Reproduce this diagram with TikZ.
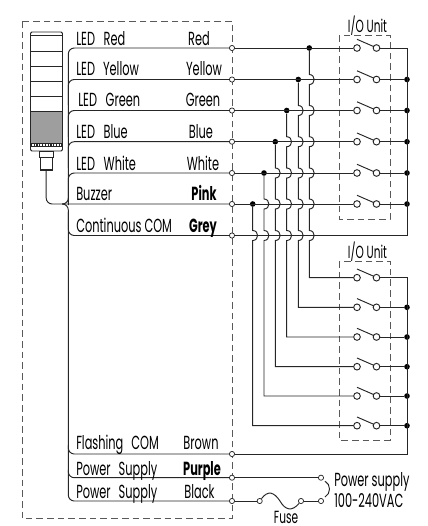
\documentclass[tikz,border=0pt]{standalone}
\usepackage{fontspec}
\usepackage{tikz}
\usetikzlibrary{calc}
\newfontfamily\labelfont[FakeStretch=0.6]{Poppins}

% one relay contact of an I/O unit: nodes #1l and #1r on the row y=#2
\newcommand{\contact}[2]{
	\node[contact pin] (#1l) at (357,#2) {};
	\node[contact pin] (#1r) at (376.5,#2) {};
	\coordinate (#1a) at (357,#2-8.7);
	\coordinate (#1b) at (374,#2-1.3);
	\draw[wire] (#1a) -- (#1b);
}
% crossing of a vertical wire over a row, bulging to the right
\newcommand{\hopat}[2]{-- (#1,#2-5) .. controls (#1+6.5,#2-5) and (#1+6.5,#2+5) .. (#1,#2+5)}

\begin{document}
\begin{tikzpicture}[
		x=0.75pt, y=-0.75pt,
		every node/.style={font=\labelfont\fontsize{14.2pt}{16pt}\selectfont, inner sep=0pt},
		wire/.style={line width=0.72pt, draw=black!85},
		branch/.style={wire, rounded corners=4.5pt},
		frame/.style={line width=0.55pt, draw=black!65, dash pattern=on 5pt off 3pt},
		terminal/.style={circle, draw=black!85, fill=white, line width=0.55pt, minimum size=3.9pt},
		contact pin/.style={circle, draw=black!85, fill=white, line width=0.7pt, minimum size=5pt},
		junction/.style={circle, fill=black, minimum size=4.2pt},
		left label/.style={anchor=base west},
		right label/.style={anchor=base},
		strong label/.style={right label, font=\labelfont\bfseries\fontsize{14.2pt}{16pt}\selectfont},
		small label/.style={font=\labelfont\fontsize{13.2pt}{15pt}\selectfont}
		]
		\useasboundingbox (0,0) rectangle (428,526);
		
		% Frames
		\draw[frame] (22,21) rectangle (232,518.5);
		\draw[frame] (339,35) rectangle (390,219);
		\draw[frame] (339,261) rectangle (390,440);
		
		% Tower light
		\draw[wire, fill=black!38] (30.5,111) rectangle (62.5,143);
		\draw[wire, rounded corners=1pt] (30.5,111) -- (30.5,32) -- (62.5,32) -- (62.5,111);
		\draw[wire] (30.5,35) -- (62.5,35);
		\draw[wire] (30.5,51.3) -- (62.5,51.3);
		\draw[wire] (30.5,66.3) -- (62.5,66.3);
		\draw[wire] (30.5,81.3) -- (62.5,81.3);
		\draw[wire] (30.5,96.3) -- (62.5,96.3);
		\draw[wire, rounded corners=1pt] (30.5,143) -- (30.5,151) -- (62.5,151) -- (62.5,143);
		\fill[black!85] (30.5,143) rectangle (62.5,147);
		\draw[white, line width=1pt, dash pattern=on 1.2pt off 0.9pt] (32,145) -- (61,145);
		\draw[wire] (39.3,151) rectangle (53.5,157);
		\node[draw=black!85, line width=0.8pt, minimum width=9pt, minimum height=9.7pt] (plug) at (46.2,163.5) {};
		
		% Terminals
		\node[terminal] (tred) at (232,48) {};
		\node[terminal] (tyellow) at (232,79.5) {};
		\node[terminal] (tgreen) at (232,110.5) {};
		\node[terminal] (tblue) at (232,141.7) {};
		\node[terminal] (twhite) at (232,173) {};
		\node[terminal] (tpink) at (232,204) {};
		\node[terminal] (tgrey) at (232,235.5) {};
		\node[terminal] (tbrown) at (232,454) {};
		\node[terminal] (tpurple) at (232,477.7) {};
		\node[terminal] (tblack) at (232,501) {};
		
		% Upper and lower I/O unit
		\contact{ua}{48}
		\contact{ub}{79.5}
		\contact{uc}{110.5}
		\contact{ud}{141.7}
		\contact{ue}{173}
		\contact{uf}{204}
		\contact{la}{277.7}
		\contact{lb}{307.3}
		\contact{lc}{337}
		\contact{ld}{366.7}
		\contact{le}{396}
		\contact{lf}{425.7}
		
		% Junctions on the rows
		\node[junction] (dred) at (309.3,48) {};
		\node[junction] (dyellow) at (298.3,79.5) {};
		\node[junction] (dgreen) at (286.7,110.5) {};
		\node[junction] (dblue) at (275.3,141.7) {};
		\node[junction] (dwhite) at (264,173) {};
		\node[junction] (dpink) at (252.7,204) {};
		
		% Junctions on the right buses
		\node[junction] (ub2) at (407,79.5) {};
		\node[junction] (ub3) at (407,110.5) {};
		\node[junction] (ub4) at (407,141.7) {};
		\node[junction] (ub5) at (407,173) {};
		\node[junction] (ub6) at (407,204) {};
		\node[junction] (lb2) at (407,307.3) {};
		\node[junction] (lb3) at (407,337) {};
		\node[junction] (lb4) at (407,366.7) {};
		\node[junction] (lb5) at (407,396) {};
		\node[junction] (lb6) at (407,425.7) {};
		\coordinate (ubtop) at (407,48);
		\coordinate (ubend) at (407,235.5);
		\coordinate (lbtop) at (407,277.7);
		\coordinate (lbend) at (407,454);
		
		% Rows to the upper unit
		\draw[wire] (tred) -- (ual);
		\draw[wire] (tyellow) -- (ubl);
		\draw[wire] (tgreen) -- (ucl);
		\draw[wire] (tblue) -- (udl);
		\draw[wire] (twhite) -- (uel);
		\draw[wire] (tpink) -- (ufl);
		
		% Right buses
		\draw[wire] (uar) -- (ubtop) -- (ubend) -- (tgrey);
		\draw[wire] (ubr) -- (ub2);
		\draw[wire] (ucr) -- (ub3);
		\draw[wire] (udr) -- (ub4);
		\draw[wire] (uer) -- (ub5);
		\draw[wire] (ufr) -- (ub6);
		\draw[wire] (lar) -- (lbtop) -- (lbend) -- (tbrown);
		\draw[wire] (lbr) -- (lb2);
		\draw[wire] (lcr) -- (lb3);
		\draw[wire] (ldr) -- (lb4);
		\draw[wire] (ler) -- (lb5);
		\draw[wire] (lfr) -- (lb6);
		
		% Verticals to the lower unit
		\draw[wire] (dred) \hopat{309.3}{79.5} \hopat{309.3}{110.5} \hopat{309.3}{141.7} \hopat{309.3}{173} \hopat{309.3}{204} \hopat{309.3}{235.5} |- (lal);
		\draw[wire] (dyellow) \hopat{298.3}{110.5} \hopat{298.3}{141.7} \hopat{298.3}{173} \hopat{298.3}{204} \hopat{298.3}{235.5} |- (lbl);
		\draw[wire] (dgreen) \hopat{286.7}{141.7} \hopat{286.7}{173} \hopat{286.7}{204} \hopat{286.7}{235.5} |- (lcl);
		\draw[wire] (dblue) \hopat{275.3}{173} \hopat{275.3}{204} \hopat{275.3}{235.5} |- (ldl);
		\draw[wire] (dwhite) \hopat{264}{204} \hopat{264}{235.5} |- (lel);
		\draw[wire] (dpink) \hopat{252.7}{235.5} |- (lfl);
		
		% Cable of the tower light and its branches
		\draw[branch] (plug.south) |- (tpink);
		\draw[branch] (tred) -| (68.3,75);
		\draw[branch] (tyellow) -| (68.3,105);
		\draw[branch] (tgreen) -| (68.3,137);
		\draw[branch] (tblue) -| (68.3,168);
		\draw[branch] (twhite) -| (68.3,199);
		\draw[branch] (68.3,75) -- (68.3,199) -- (68.3,204) -- (62,204);
		\draw[branch] (62,204) -- (68.3,204) -- (68.3,225);
		\draw[branch] (tgrey) -| (68.3,212);
		\draw[branch] (tbrown) -| (68.3,225);
		\draw[branch] (tpurple) -| (68.3,445);
		\draw[branch] (tblack) -| (68.3,470);
		
		% Power supply
		\node[terminal] (psa) at (321,477.7) {};
		\node[terminal] (psb) at (321,501) {};
		\node[terminal] (fusea) at (259.7,501) {};
		\node[terminal] (fuseb) at (301,501) {};
		\draw[wire] (tpurple) -- (psa);
		\draw[wire] (tblack) -- (fusea);
		\draw[wire] (fuseb) -- (psb);
		\draw[wire] (fusea) .. controls (268,490) and (274,492) .. (280,501) .. controls (285,510) and (292,512) .. (fuseb);
		\draw[wire] (psa) ++(4,3.5) .. controls (331,484) and (331,494) .. (325,497);
		
		% Labels inside the frame
		\node[left label] (lred) at (76,45) {LED\hspace{6.5pt}Red};
		\node[left label] (lyellow) at (76,75) {LED\hspace{6pt}Yellow};
		\node[left label] (lgreen) at (78,106.7) {LED\hspace{6.5pt}Green};
		\node[left label] (lblue) at (76,138) {LED\hspace{6.5pt}Blue};
		\node[left label] (lwhite) at (76,170.7) {LED\hspace{6.5pt}White};
		\node[left label] (lbuzzer) at (76,200) {Buzzer};
		\node[left label] (lcom) at (76,232) {Continuous COM};
		\node[left label] (lflash) at (76,449.3) {Flashing\hspace{6pt}COM};
		\node[left label] (lpsa) at (76,475) {Power\hspace{6pt}Supply};
		\node[left label] (lpsb) at (76,498.3) {Power\hspace{6pt}Supply};
		\node[right label] (cred) at (199,45) {Red};
		\node[right label] (cyellow) at (204,75) {Yellow};
		\node[right label] (cgreen) at (203,106.7) {Green};
		\node[right label] (cblue) at (201,138) {Blue};
		\node[right label] (cwhite) at (203,170.7) {White};
		\node[strong label] (cpink) at (204,200) {Pink};
		\node[strong label] (cgrey) at (203,232) {Grey};
		\node[right label] (cbrown) at (201,449.3) {Brown};
		\node[strong label] (cpurple) at (202,475) {Purple};
		\node[right label] (cblack) at (199.5,498.3) {Black};
		
		% Labels outside the frame
		\node[right label, small label] (iou) at (367.5,32) {I/O Unit};
		\node[right label, small label] (iol) at (367.5,258) {I/O Unit};
		\node[left label] (supply) at (334,486) {Power supply};
		\node[left label] (volt) at (334,507) {100-240VAC};
		\node[right label, small label] (fuse) at (286,523) {Fuse};
		
	\end{tikzpicture}
\end{document}
